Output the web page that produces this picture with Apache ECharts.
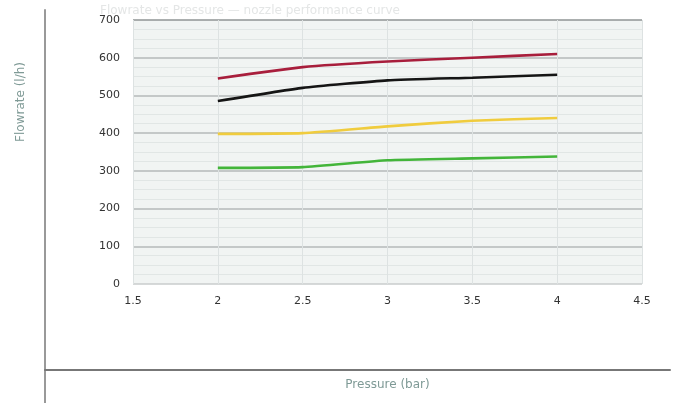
<!DOCTYPE html>
<html>
<head>
<meta charset="utf-8">
<script src="https://cdn.jsdelivr.net/npm/echarts@6/dist/echarts.min.js"></script>
<style>
html,body{margin:0;padding:0;background:#fff;}
#c{width:674px;height:403px;}
</style>
</head>
<body>
<div id="c"></div>
<script>
const pressure = [2, 2.5, 3, 3.5, 4];
const redSeries = [545, 575, 590, 600, 610];
const blackSeries = [485, 520, 540, 547, 555];
const yellowSeries = [398, 400, 418, 433, 440];
const greenSeries = [308, 310, 328, 333, 338];
const xTicks = [1.5, 2, 2.5, 3, 3.5, 4, 4.5];
const yTicks = [0, 100, 200, 300, 400, 500, 600, 700];

const toPairs = arr => pressure.map((p, i) => [p, arr[i]]);
const chart = echarts.init(document.getElementById('c'));
const font = 'DejaVu Sans';
function line(name, data, color) {
  return {
    name, type: 'line', data: toPairs(data), xAxisIndex: 0, yAxisIndex: 0,
    showSymbol: false, smooth: 0.15,
    lineStyle: { color, width: 2.6 }, itemStyle: { color }
  };
}
const hidden = { axisTick: { show: false }, axisLabel: { show: false }, splitLine: { show: false } };
chart.setOption({
  animation: false,
  backgroundColor: '#fff',
  title: {
    text: 'Flowrate vs Pressure — nozzle performance curve',
    left: 95, top: 0,
    textStyle: { color: '#e4e6e6', fontSize: 12, fontWeight: 'normal', fontFamily: font }
  },
  grid: [
    { left: 133, right: 32, top: 20, bottom: 119, show: true, backgroundColor: '#f1f4f3', borderWidth: 0 },
    { left: 45, right: 4, top: 10, bottom: 33, show: false },
    { left: 45, right: 4, top: 10, bottom: 0, show: false }
  ],
  xAxis: [
    {
      gridIndex: 0, type: 'value', min: 1.5, max: 4.5, interval: 0.5,
      name: 'Pressure (bar)', nameLocation: 'middle', nameGap: 95,
      nameTextStyle: { color: '#7f9a96', fontSize: 12, fontFamily: font },
      axisLine: { show: false }, axisTick: { show: false },
      axisLabel: { color: '#333', fontSize: 11, fontFamily: font, margin: 12 },
      splitLine: { show: true, lineStyle: { color: '#dde2e2', width: 1 } }
    },
    Object.assign({
      gridIndex: 1, type: 'value', min: 0, max: 1,
      axisLine: { show: true, onZero: false, lineStyle: { color: '#777', width: 2 } }
    }, hidden),
    Object.assign({
      gridIndex: 2, type: 'value', min: 0, max: 1, axisLine: { show: false }
    }, hidden)
  ],
  yAxis: [
    {
      gridIndex: 0, type: 'value', min: 0, max: 700, interval: 100,
      axisLine: { show: false }, axisTick: { show: false },
      axisLabel: { color: '#333', fontSize: 11, fontFamily: font, margin: 13 },
      splitLine: { show: true, lineStyle: {
        color: ['#c8cdcd', '#b4baba', '#b4baba', '#b4baba', '#b4baba', '#b4baba', '#b4baba', '#8f9595'],
        width: 1.5 } },
      minorTick: { show: false, splitNumber: 4 },
      minorSplitLine: { show: true, lineStyle: { color: '#e1e6e5', width: 1 } }
    },
    Object.assign({
      gridIndex: 1, type: 'value', min: 0, max: 1, axisLine: { show: false }
    }, hidden),
    Object.assign({
      gridIndex: 2, type: 'value', min: 0, max: 1,
      axisLine: { show: true, onZero: false, lineStyle: { color: '#999', width: 2 } }
    }, hidden)
  ],
  graphic: [
    {
      type: 'text', left: 15, top: 62, rotation: Math.PI / 2,
      style: { text: 'Flowrate (l/h)', fill: '#7f9a96', fontSize: 12, fontFamily: font }
    }
  ],
  series: [
    line('Red', redSeries, '#a81e3c'),
    line('Black', blackSeries, '#151515'),
    line('Yellow', yellowSeries, '#f0cc3e'),
    line('Green', greenSeries, '#43b53a')
  ]
});
</script>
</body>
</html>
